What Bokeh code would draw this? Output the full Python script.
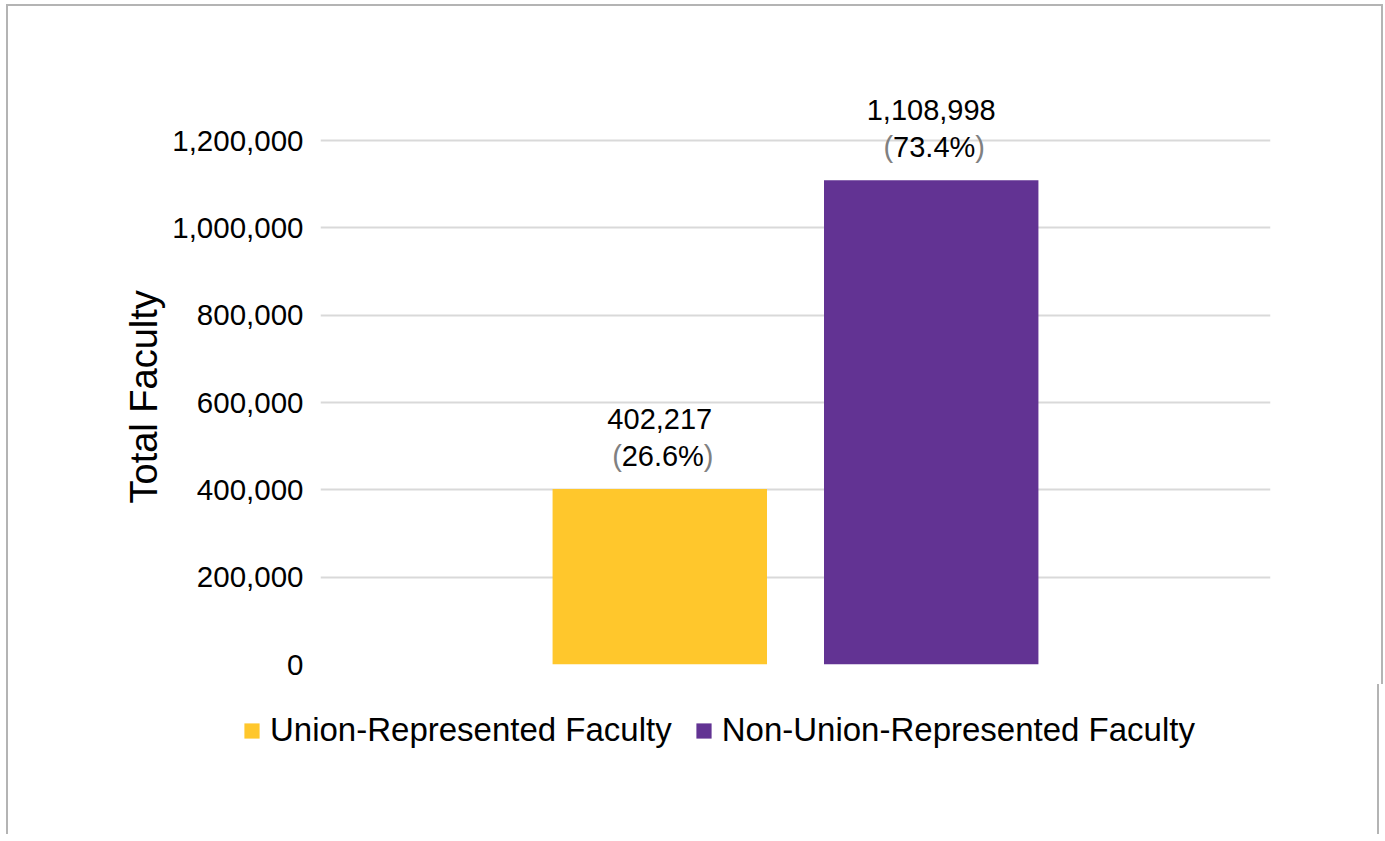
from bokeh.plotting import figure
from bokeh.models import (ColumnDataSource, Range1d, FixedTicker, NumeralTickFormatter,
                          Legend, LegendItem, Title)
from bokeh.core.properties import value
from bokeh.embed import file_html
from bokeh.resources import INLINE

# ---- data ----
categories = ["Union-Represented Faculty", "Non-Union-Represented Faculty"]
counts = [402217, 1108998]
count_labels = ["402,217", "1,108,998"]
percent_labels = ["26.6%", "73.4%"]
colors = ["#FFC72C", "#623393"]
y_ticks = [0, 200000, 400000, 600000, 800000, 1000000, 1200000]
y_title = "Total Faculty"

FONT = "Liberation Sans"
BORDER = "2px solid #b4b4b4"

positions = list(range(len(categories)))
src = ColumnDataSource(dict(x=positions, top=counts, cat=categories, color=colors,
                            clabel=count_labels, plabel=percent_labels))

p = figure(frame_width=950, frame_height=585, output_backend="svg", toolbar_location=None,
           x_range=Range1d(-1.25, 2.25), y_range=Range1d(0, 1340000),
           min_border_left=312, min_border_right=111, min_border_top=73,
           min_border_bottom=20)
p.outline_line_color = None
p.background_fill_color = "white"
p.border_fill_color = "white"
p.styles = {"border-left": BORDER, "border-top": BORDER, "border-right": BORDER,
            "margin-left": "6px", "margin-top": "4px"}

bars = p.vbar(x="x", top="top", width=0.79, bottom=0, source=src,
              fill_color="color", line_color=None)

# data labels
p.text(x="x", y="top", text="clabel", source=src, y_offset=-70,
       text_align="center", text_baseline="alphabetic",
       text_font=value(FONT), text_font_size="29px", text_color="black")
p.text(x="x", y="top", text="plabel", source=src, y_offset=-33, x_offset=3,
       text_align="center", text_baseline="alphabetic",
       text_font=value(FONT), text_font_size="29px", text_color="black")
p.text(x="x", y="top", text=value("("), source=src, y_offset=-33, x_offset=-38,
       text_align="right", text_baseline="alphabetic",
       text_font=value(FONT), text_font_size="29px", text_color="#808080")
p.text(x="x", y="top", text=value(")"), source=src, y_offset=-33, x_offset=44,
       text_align="left", text_baseline="alphabetic",
       text_font=value(FONT), text_font_size="29px", text_color="#808080")

# axes
p.xaxis.visible = False
p.xgrid.grid_line_color = None
yax = p.yaxis[0]
yax.ticker = FixedTicker(ticks=y_ticks)
yax.formatter = NumeralTickFormatter(format="0,0")
yax.axis_line_color = None
yax.major_tick_line_color = None
yax.minor_tick_line_color = None
yax.major_tick_out = 0
yax.major_tick_in = 0
yax.major_label_standoff = 17
yax.major_label_text_font = FONT
yax.major_label_text_font_size = "29.5px"
yax.major_label_text_color = "black"
p.ygrid.ticker = FixedTicker(ticks=y_ticks)
p.ygrid.grid_line_color = "#d9d9d9"
p.ygrid.grid_line_width = 2

# y-axis title (slightly below the frame centre, as in the original)
p.add_layout(Title(text=y_title, align="left", offset=161, standoff=9,
                   text_font=FONT, text_font_size="38px", text_font_style="normal",
                   text_color="black"), "left")

# legend strip below the chart (own frame so the legend is not clipped)
lg = figure(width=1373, height=150, output_backend="svg", toolbar_location=None,
            x_range=Range1d(-1.25, 2.25), y_range=Range1d(-2, -1),
            min_border=0)
lg.axis.visible = False
lg.grid.visible = False
lg.outline_line_color = None
lg.border_fill_color = "white"
lg.styles = {"border-left": BORDER, "border-right": BORDER, "margin-left": "6px"}
leg_bars = lg.vbar(x="x", top="top", width=0.79, bottom=0, source=src,
                   fill_color="color", line_color=None)
leg_bars.visible = False

legend = Legend(items=[LegendItem(label=categories[i], renderers=[leg_bars], index=i)
                       for i in positions],
                orientation="horizontal", location=(234, 85),
                glyph_width=19, glyph_height=19, label_standoff=9, spacing=22,
                padding=0, margin=0, border_line_alpha=0, background_fill_alpha=0,
                label_text_font=FONT, label_text_font_size="33px",
                label_text_color="black")
lg.add_layout(legend, "center")

open("out.html", "w").write(file_html([p, lg], INLINE))
